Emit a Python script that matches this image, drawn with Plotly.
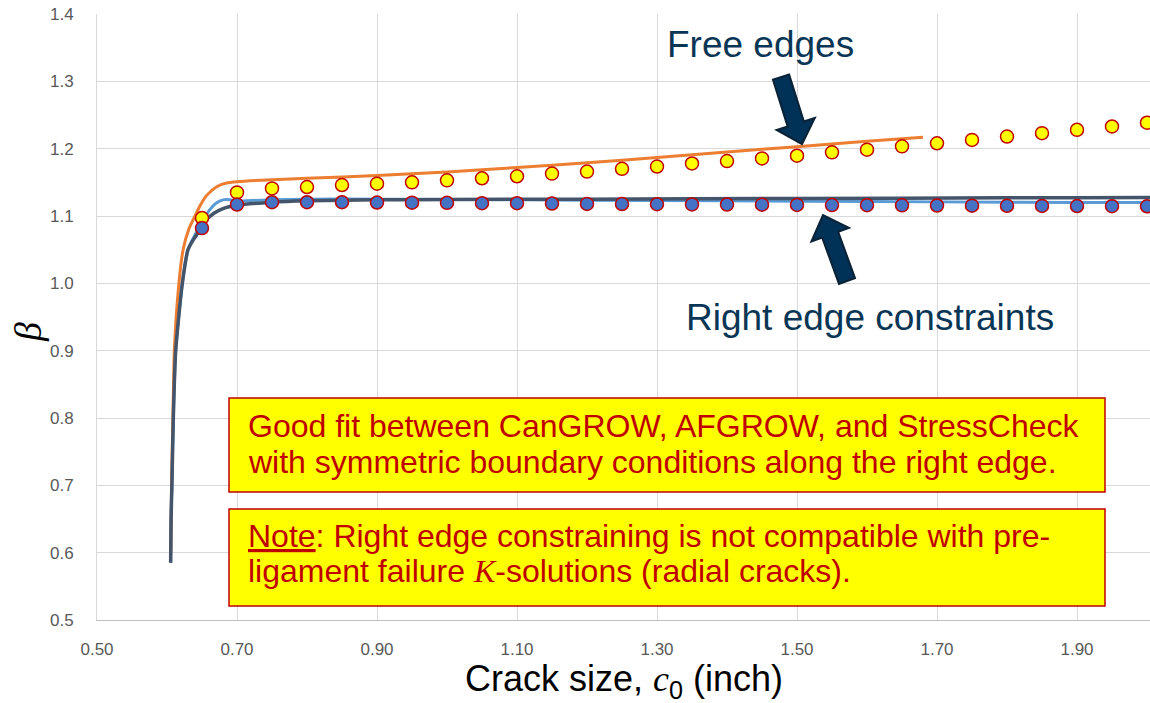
import plotly.graph_objects as go
import math

# ---------------- data ----------------
marker_x = [0.65, 0.70, 0.75, 0.80, 0.85, 0.90, 0.95, 1.00, 1.05, 1.10, 1.15, 1.20, 1.25, 1.30,
            1.35, 1.40, 1.45, 1.50, 1.55, 1.60, 1.65, 1.70, 1.75, 1.80, 1.85, 1.90, 1.95, 2.00]
free_edge_markers = [1.097, 1.135, 1.141, 1.143, 1.146, 1.148, 1.150, 1.153, 1.156, 1.159, 1.163, 1.166,
                     1.170, 1.1735, 1.178, 1.1815, 1.1855, 1.1895, 1.1945, 1.1985, 1.2035, 1.208, 1.213,
                     1.218, 1.223, 1.228, 1.233, 1.2385]
right_edge_markers = [1.082, 1.117, 1.1205, 1.1205, 1.1205, 1.120, 1.1198, 1.1195, 1.119, 1.119, 1.1185,
                      1.118, 1.1178, 1.1175, 1.1172, 1.117, 1.1168, 1.1165, 1.1162, 1.116, 1.1158, 1.1156,
                      1.1154, 1.1152, 1.115, 1.1148, 1.1146, 1.1144]

orange_x = [0.6055, 0.6065, 0.6085, 0.6105, 0.617, 0.623, 0.631, 0.640, 0.647, 0.657, 0.671, 0.685,
            0.70, 0.75, 0.80, 0.90, 1.00, 1.10, 1.20, 1.30, 1.40, 1.50, 1.60, 1.68]
orange_y = [0.60, 0.70, 0.80, 0.90, 1.00, 1.05, 1.08, 1.10, 1.115, 1.131, 1.1435, 1.149,
            1.151, 1.154, 1.156, 1.160, 1.1655, 1.172, 1.179, 1.187, 1.195, 1.203, 1.211, 1.217]

navy_x = [0.6052, 0.6058, 0.607, 0.609, 0.6124, 0.6219, 0.630, 0.636, 0.645, 0.655, 0.667, 0.68,
          0.70, 0.75, 0.80, 0.90, 1.00, 1.20, 1.50, 1.80, 2.00, 2.01]
navy_y = [0.585, 0.65, 0.70, 0.80, 0.90, 1.00, 1.05, 1.062, 1.076, 1.093, 1.104, 1.111,
          1.116, 1.1205, 1.1225, 1.124, 1.1245, 1.125, 1.126, 1.127, 1.1275, 1.1275]

lblue_x = [0.6052, 0.6058, 0.607, 0.609, 0.6124, 0.6219, 0.630, 0.640, 0.65, 0.66, 0.67, 0.68,
           0.69, 0.70, 0.72, 0.75, 0.80, 0.90, 1.00, 1.20, 1.40, 1.60, 1.80, 2.00, 2.01]
lblue_y = [0.585, 0.65, 0.70, 0.80, 0.90, 1.00, 1.05, 1.072, 1.09, 1.108, 1.119, 1.124,
           1.124, 1.122, 1.123, 1.124, 1.125, 1.125, 1.1245, 1.1235, 1.1225, 1.1215, 1.1205, 1.120, 1.120]

x_ticks = [0.50, 0.70, 0.90, 1.10, 1.30, 1.50, 1.70, 1.90]
y_ticks = [0.5, 0.6, 0.7, 0.8, 0.9, 1.0, 1.1, 1.2, 1.3, 1.4]

# ---------------- layout geometry (window pixels; page margin removed) ----------------
W, H = 1150, 703
PLOT_L, PLOT_T, PLOT_R, PLOT_B = 97, 14, 1150, 620
L, T, R, B = PLOT_L, PLOT_T, W - PLOT_R, H - PLOT_B
PW, PH = PLOT_R - PLOT_L, PLOT_B - PLOT_T


def px(xp):
    return (xp - PLOT_L) / PW


def py(yp):
    return (PLOT_B - yp) / PH


fig = go.Figure()

fig.add_trace(go.Scatter(x=lblue_x, y=lblue_y, mode="lines",
                         line=dict(color="#5B9BD5", width=3, shape="spline", smoothing=0.6),
                         showlegend=False, hoverinfo="skip"))
fig.add_trace(go.Scatter(x=orange_x, y=orange_y, mode="lines",
                         line=dict(color="#ED7D31", width=3, shape="spline", smoothing=0.6),
                         showlegend=False, hoverinfo="skip"))
fig.add_trace(go.Scatter(x=navy_x, y=navy_y, mode="lines",
                         line=dict(color="#44546A", width=3.5, shape="spline", smoothing=0.6),
                         showlegend=False, hoverinfo="skip"))
fig.add_trace(go.Scatter(x=marker_x, y=free_edge_markers, mode="markers",
                         marker=dict(size=13, color="#FFFF00", line=dict(color="#C00000", width=1.5)),
                         showlegend=False, hoverinfo="skip"))
fig.add_trace(go.Scatter(x=marker_x, y=right_edge_markers, mode="markers",
                         marker=dict(size=13, color="#4472C4", line=dict(color="#C00000", width=1.5)),
                         showlegend=False, hoverinfo="skip"))

# ---------------- boxes ----------------
box_color = "#C00000"
shapes = []
for (x0, y0, x1, y1) in [(229, 398, 1105, 492), (229, 509, 1105, 606)]:
    shapes.append(dict(type="rect", xref="paper", yref="paper",
                       x0=px(x0), x1=px(x1), y0=py(y1), y1=py(y0),
                       fillcolor="#FFFF00", line=dict(color=box_color, width=1.5), layer="above"))


def arrow_path(tail, tip, shaft_w=17, head_w=40, head_len=21):
    tx, ty = tail
    hx, hy = tip
    d = math.hypot(hx - tx, hy - ty)
    ux, uy = (hx - tx) / d, (hy - ty) / d
    nx, ny = -uy, ux
    bx, by = hx - ux * head_len, hy - uy * head_len
    pts = [(tx + nx * shaft_w / 2, ty + ny * shaft_w / 2),
           (bx + nx * shaft_w / 2, by + ny * shaft_w / 2),
           (bx + nx * head_w / 2, by + ny * head_w / 2),
           (hx, hy),
           (bx - nx * head_w / 2, by - ny * head_w / 2),
           (bx - nx * shaft_w / 2, by - ny * shaft_w / 2),
           (tx - nx * shaft_w / 2, ty - ny * shaft_w / 2)]
    return "M " + " L ".join(f"{px(a):.5f},{py(b):.5f}" for a, b in pts) + " Z"


for tail, tip in [((781, 77), (802, 144)), ((847, 281), (823, 215))]:
    shapes.append(dict(type="path", xref="paper", yref="paper", path=arrow_path(tail, tip),
                       fillcolor="#003157", line=dict(color="#0B2236", width=2), layer="above"))

# ---------------- text ----------------
ann = []
box_font = dict(family="Liberation Sans, Arial", size=32, color=box_color)
serif = "font-family:'Liberation Serif','DejaVu Serif',serif"
box_lines = [
    ("Good fit between CanGROW, AFGROW, and StressCheck", 426),
    ("with symmetric boundary conditions along the right edge.", 462),
    ("<span style='text-decoration:underline'>Note</span>: Right edge constraining is not compatible with pre-", 536),
    (f"ligament failure <span style=\"{serif}\"><i>K</i></span>-solutions (radial cracks).", 571),
]
for txt, yy in box_lines:
    ann.append(dict(text=txt, xref="paper", yref="paper", x=px(246), y=py(yy),
                    xanchor="left", yanchor="middle", showarrow=False, font=box_font, align="left"))

callout_font = dict(family="Liberation Sans, Arial", size=37, color="#0A3656")
ann.append(dict(text="Free edges", xref="paper", yref="paper", x=px(665), y=py(44),
                xanchor="left", yanchor="middle", showarrow=False, font=callout_font))
ann.append(dict(text="Right edge constraints", xref="paper", yref="paper", x=px(684), y=py(317),
                xanchor="left", yanchor="middle", showarrow=False, font=callout_font))

# axis titles
ann.append(dict(text=f"Crack size, <span style=\"{serif}\"><i>c</i></span><sub>0</sub> (inch)",
                xref="paper", yref="paper", x=px(624), y=py(681), xanchor="center", yanchor="middle",
                showarrow=False, font=dict(family="Liberation Sans, Arial", size=36, color="#000000")))
ann.append(dict(text="<i>β</i>", xref="paper", yref="paper", x=px(28), y=py(332), xanchor="center",
                yanchor="middle", textangle=-90, showarrow=False,
                font=dict(family="Liberation Serif, DejaVu Serif", size=38, color="#000000")))

fig.update_layout(
    width=W, height=H, margin=dict(l=L, r=R, t=T, b=B, pad=0),
    paper_bgcolor="white", plot_bgcolor="white",
    shapes=shapes, annotations=ann,
    xaxis=dict(range=[0.5, 0.5 + PW / 700.0], tickvals=x_ticks, ticktext=[f"{v:.2f}" for v in x_ticks],
               showgrid=True, gridcolor="#D9D9D9", gridwidth=1, zeroline=False,
               showline=True, linecolor="#BFBFBF", linewidth=1, ticks="",
               tickfont=dict(family="Liberation Sans, Arial", size=17, color="#595959"),
               ticklabelstandoff=14, ticklabeloverflow="allow"),
    yaxis=dict(range=[0.5, 1.4], tickvals=y_ticks, ticktext=[f"{v:.1f}" for v in y_ticks],
               showgrid=True, gridcolor="#D9D9D9", gridwidth=1, zeroline=False,
               showline=True, linecolor="#D9D9D9", linewidth=1, ticks="",
               tickfont=dict(family="Liberation Sans, Arial", size=17, color="#595959"),
               ticklabelstandoff=19, ticklabeloverflow="allow"),
)

fig.write_html("out.html", config={"displayModeBar": False},
               post_script="document.body.style.margin='0';document.body.style.overflow='hidden';")
